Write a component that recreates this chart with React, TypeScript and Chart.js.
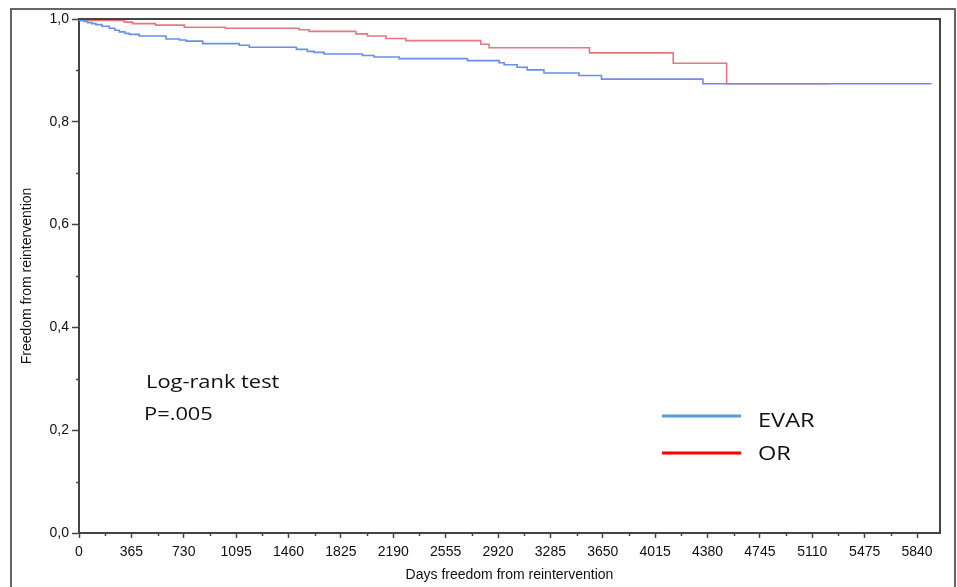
import React, { useEffect, useRef } from "react";
import { Chart, registerables } from "chart.js";

Chart.register(...registerables);

// ---------- data ----------
const xTickValues = [0, 365, 730, 1095, 1460, 1825, 2190, 2555, 2920, 3285, 3650, 4015, 4380, 4745, 5110, 5475, 5840];
const yTickValues = [0, 0.2, 0.4, 0.6, 0.8, 1.0];

const evarDays = [0, 10, 35, 60, 90, 118, 160, 211, 250, 281, 320, 351, 420, 606, 700, 746, 862, 1117, 1187, 1515, 1591, 1638, 1708, 1975, 2056, 2231, 2707, 2928, 2963, 3053, 3123, 3240, 3484, 3641, 4348, 5941];
const evarSurv = [1.0, 0.997, 0.995, 0.993, 0.991, 0.989, 0.986, 0.982, 0.978, 0.975, 0.972, 0.970, 0.967, 0.961, 0.959, 0.957, 0.952, 0.949, 0.945, 0.941, 0.937, 0.935, 0.932, 0.929, 0.926, 0.923, 0.919, 0.915, 0.911, 0.906, 0.901, 0.895, 0.890, 0.883, 0.874, 0.874];

const orDays = [0, 5, 316, 374, 532, 734, 1020, 1534, 1604, 1929, 2010, 2138, 2278, 2800, 2858, 3557, 4141, 4513, 5228];
const orSurv = [1.0, 0.997, 0.994, 0.991, 0.988, 0.984, 0.982, 0.979, 0.976, 0.971, 0.967, 0.962, 0.958, 0.951, 0.944, 0.934, 0.914, 0.874, 0.874];

const seriesLabels = ["EVAR", "OR"];
const curveColors = ["#6a8fe8", "#e37782"];
const legendColors = ["#5b9bd5", "#ff0000"];
const annotationLines = ["Log-rank test", "P=.005"];

const xTitle = "Days freedom from reintervention";
const yTitle = "Freedom from reintervention";

const AXIS = "#444444";
const TICK_FONT = "'Liberation Sans', Arial, sans-serif";
const NOTE_FONT = "'Open Sans', Lato, sans-serif";

function stretchedText(ctx: any, text: string, x: number, y: number, sx: number) {
  ctx.save();
  ctx.translate(x, y);
  ctx.scale(sx, 1);
  ctx.fillText(text, 0, 0);
  ctx.restore();
}

const decorPlugin = {
  id: "decor",
  beforeDraw(chart: any) {
    const { ctx } = chart;
    ctx.save();
    ctx.fillStyle = "#ffffff";
    ctx.fillRect(0, 0, chart.width, chart.height);
    ctx.strokeStyle = "#666666";
    ctx.lineWidth = 2;
    ctx.beginPath();
    ctx.moveTo(11, 700);
    ctx.lineTo(11, 9);
    ctx.lineTo(955, 9);
    ctx.lineTo(955, 700);
    ctx.stroke();
    ctx.restore();
  },
  afterDraw(chart: any) {
    const { ctx, chartArea, scales } = chart;
    const x = scales.x;
    const y = scales.y;
    ctx.save();
    ctx.strokeStyle = AXIS;
    ctx.lineWidth = 2;
    ctx.beginPath();
    ctx.moveTo(chartArea.left, chartArea.top);
    ctx.lineTo(chartArea.right, chartArea.top);
    ctx.lineTo(chartArea.right, chartArea.bottom);
    ctx.stroke();
    // minor ticks
    ctx.lineWidth = 1.5;
    ctx.beginPath();
    for (let i = 0; i < xTickValues.length - 1; i++) {
      const v = (xTickValues[i] + xTickValues[i + 1]) / 2;
      const px = Math.round(x.getPixelForValue(v)) + 0.5;
      ctx.moveTo(px, chartArea.bottom);
      ctx.lineTo(px, chartArea.bottom + 3);
    }
    {
      const last = xTickValues[xTickValues.length - 1];
      const step = xTickValues[1] - xTickValues[0];
      const v = last + step / 2;
      if (v < x.max) {
        const px = Math.round(x.getPixelForValue(v)) + 0.5;
        ctx.moveTo(px, chartArea.bottom);
        ctx.lineTo(px, chartArea.bottom + 3);
      }
    }
    for (let i = 0; i < yTickValues.length - 1; i++) {
      const v = (yTickValues[i] + yTickValues[i + 1]) / 2;
      const py = Math.round(y.getPixelForValue(v)) + 0.5;
      ctx.moveTo(chartArea.left - 3, py);
      ctx.lineTo(chartArea.left, py);
    }
    ctx.stroke();

    // annotation text
    ctx.fillStyle = "#111111";
    ctx.textAlign = "left";
    ctx.textBaseline = "alphabetic";
    ctx.font = `19px ${NOTE_FONT}`;
    stretchedText(ctx, annotationLines[0], 146, 388, 1.15);
    stretchedText(ctx, annotationLines[1], 144, 420, 1.15);

    // legend
    const legY = [416, 453];
    const legBase = [427, 460];
    ctx.lineWidth = 3;
    for (let i = 0; i < seriesLabels.length; i++) {
      ctx.strokeStyle = legendColors[i];
      ctx.beginPath();
      ctx.moveTo(662, legY[i]);
      ctx.lineTo(741, legY[i]);
      ctx.stroke();
      ctx.fillStyle = "#111111";
      ctx.font = `20px ${NOTE_FONT}`;
      stretchedText(ctx, seriesLabels[i], 758, legBase[i], 1.18);
    }
    ctx.restore();
  },
};

export default function App() {
  const canvasRef = useRef<HTMLCanvasElement | null>(null);

  useEffect(() => {
    const canvas = canvasRef.current;
    if (!canvas) return;
    const chart = new Chart(canvas, {
      type: "line",
      data: {
        datasets: [
          {
            label: seriesLabels[0],
            data: evarDays.map((d, i) => ({ x: d, y: evarSurv[i] })),
            borderColor: curveColors[0],
            borderWidth: 1.6,
            stepped: true,
            pointRadius: 0,
            fill: false,
          },
          {
            label: seriesLabels[1],
            data: orDays.map((d, i) => ({ x: d, y: orSurv[i] })),
            borderColor: curveColors[1],
            borderWidth: 1.6,
            stepped: true,
            pointRadius: 0,
            fill: false,
          },
        ],
      },
      options: {
        animation: false,
        responsive: false,
        devicePixelRatio: 1,
        layout: { padding: { left: 0, top: 19, right: 17, bottom: 0 } },
        plugins: { legend: { display: false }, tooltip: { enabled: false } },
        scales: {
          x: {
            type: "linear",
            min: 0,
            max: 6000,
            afterBuildTicks: (scale: any) => {
              scale.ticks = xTickValues.map((v) => ({ value: v }));
            },
            afterFit: (scale: any) => {
              scale.height = 54;
            },
            grid: {
              display: true,
              drawOnChartArea: false,
              drawTicks: true,
              tickLength: 5,
              tickWidth: 1.5,
              tickColor: AXIS,
              color: AXIS,
            },
            border: { display: true, color: AXIS, width: 2 },
            ticks: {
              autoSkip: false,
              maxRotation: 0,
              minRotation: 0,
              padding: 6,
              color: "#111111",
              font: { family: TICK_FONT, size: 14 },
              callback: (v: any) => String(v),
            },
            title: {
              display: true,
              text: xTitle,
              color: "#111111",
              font: { family: TICK_FONT, size: 14 },
              padding: { top: 0, bottom: 3 },
            },
          },
          y: {
            type: "linear",
            min: 0,
            max: 1,
            afterBuildTicks: (scale: any) => {
              scale.ticks = yTickValues.map((v) => ({ value: v }));
            },
            afterFit: (scale: any) => {
              scale.width = 79;
            },
            grid: {
              display: true,
              drawOnChartArea: false,
              drawTicks: true,
              tickLength: 7,
              tickWidth: 1.5,
              tickColor: AXIS,
              color: AXIS,
            },
            border: { display: true, color: AXIS, width: 2 },
            ticks: {
              padding: 3,
              color: "#111111",
              font: { family: TICK_FONT, size: 14 },
              callback: (v: any) => Number(v).toFixed(1).replace(".", ","),
            },
            title: {
              display: true,
              text: yTitle,
              color: "#111111",
              font: { family: TICK_FONT, size: 14 },
              padding: { top: 19, bottom: 0 },
            },
          },
        },
      },
      plugins: [decorPlugin],
    } as any);
    return () => chart.destroy();
  }, []);

  return (
    <div style={{ position: "fixed", left: 0, top: 0, width: 957, height: 587, background: "#fff" }}>
      <canvas ref={canvasRef} width={957} height={587} style={{ display: "block", width: 957, height: 587 }} />
    </div>
  );
}
